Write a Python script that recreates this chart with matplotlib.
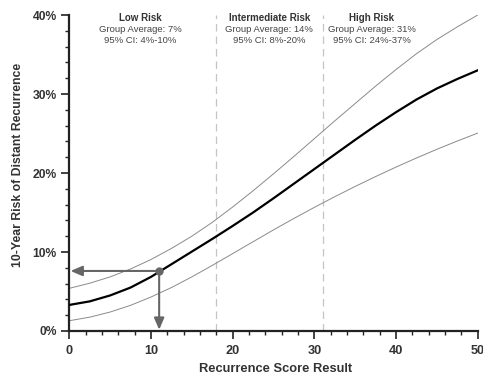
import matplotlib
matplotlib.use("Agg")
import matplotlib.pyplot as plt
from matplotlib.ticker import MultipleLocator, FuncFormatter

plt.rcParams['font.family'] = ['Liberation Sans', 'DejaVu Sans']

# Recurrence score grid and estimated 10-year distant recurrence risk (%)
score = [0, 2.5, 5, 7.5, 10, 12.5, 15, 17.5, 20, 22.5, 25,
         27.5, 30, 32.5, 35, 37.5, 40, 42.5, 45, 47.5, 50]
risk_mean = [3.30, 3.75, 4.50, 5.50, 6.85, 8.45, 10.05, 11.65, 13.30, 15.00, 16.80,
             18.65, 20.50, 22.35, 24.20, 26.00, 27.70, 29.30, 30.70, 31.90, 33.00]
risk_upper = [5.40, 6.05, 6.85, 7.85, 9.05, 10.45, 12.00, 13.75, 15.70, 17.75, 19.90,
              22.10, 24.35, 26.60, 28.80, 31.00, 33.10, 35.10, 36.90, 38.50, 40.00]
risk_lower = [1.30, 1.75, 2.40, 3.25, 4.30, 5.50, 6.85, 8.30, 9.80, 11.30, 12.80,
              14.25, 15.65, 17.00, 18.30, 19.55, 20.75, 21.90, 23.00, 24.05, 25.05]

# Risk group cut points
cutoffs = [18, 31]

# Example patient
example_score = 11
example_risk = 7.6

# Risk group annotations
group_names = ["Low Risk", "Intermediate Risk", "High Risk"]
group_avg = ["Group Average: 7%", "Group Average: 14%", "Group Average: 31%"]
group_ci = ["95% CI: 4%-10%", "95% CI: 8%-20%", "95% CI: 24%-37%"]
group_x = [8.7, 24.5, 37.0]

fig = plt.figure(figsize=(4.83, 3.76), dpi=100)
ax = fig.add_axes([0.1435, 0.1197, 0.8455, 0.8403])

for c in cutoffs:
    ax.plot([c, c], [0, 40], color="#c4c4c4", lw=0.9, dashes=(6, 4), zorder=1)

ax.plot(score, risk_upper, color="#8a8a8a", lw=0.7, zorder=2)
ax.plot(score, risk_lower, color="#8a8a8a", lw=0.7, zorder=2)
ax.plot(score, risk_mean, color="black", lw=1.6, zorder=3)

arrow_kw = dict(arrowstyle="-|>,head_length=0.7,head_width=0.3",
                color="#666666", lw=1.5, shrinkA=0, shrinkB=0)
ax.annotate("", xy=(0.15, example_risk), xytext=(example_score, example_risk),
            arrowprops=arrow_kw, zorder=4)
ax.annotate("", xy=(example_score, 0.15), xytext=(example_score, example_risk),
            arrowprops=arrow_kw, zorder=4)
ax.plot([example_score], [example_risk], "o", color="#666666", ms=5, zorder=5)

for name, avg, ci, gx in zip(group_names, group_avg, group_ci, group_x):
    ax.text(gx, 39.6, name, ha="center", va="center", fontsize=7,
            fontweight="bold", color="#333333")
    ax.text(gx, 38.2, avg, ha="center", va="center", fontsize=6.8, color="#444444")
    ax.text(gx, 36.8, ci, ha="center", va="center", fontsize=6.8, color="#444444")

ax.set_xlim(0, 50)
ax.set_ylim(0, 40)
ax.xaxis.set_major_locator(MultipleLocator(10))
ax.xaxis.set_minor_locator(MultipleLocator(2))
ax.yaxis.set_major_locator(MultipleLocator(10))
ax.yaxis.set_minor_locator(MultipleLocator(2))
ax.yaxis.set_major_formatter(FuncFormatter(lambda v, p: f"{v:.0f}%"))

for s in ["top", "right"]:
    ax.spines[s].set_visible(False)
for s in ["left", "bottom"]:
    ax.spines[s].set_linewidth(1.6)
    ax.spines[s].set_color("#222222")

ax.tick_params(which="major", length=5.5, width=1.2, color="#222222",
               labelcolor="#333333")
ax.tick_params(axis="y", which="major", pad=3.6, labelsize=8.7)
ax.tick_params(axis="x", which="major", pad=4.5, labelsize=9.2)
ax.tick_params(which="minor", length=3.2, width=1.0, color="#222222")
for lab in ax.get_xticklabels() + ax.get_yticklabels():
    lab.set_fontweight("bold")

fig.text(276 / 483, 1 - 369 / 376, "Recurrence Score Result", fontsize=9.3,
         fontweight="bold", color="#333333", ha="center", va="center")
fig.text(18.5 / 483, 1 - 165 / 376, "10-Year Risk of Distant Recurrence",
         fontsize=8.8, fontweight="bold", color="#333333", ha="center",
         va="center", rotation=90)

fig.savefig("out.png", dpi=100)
